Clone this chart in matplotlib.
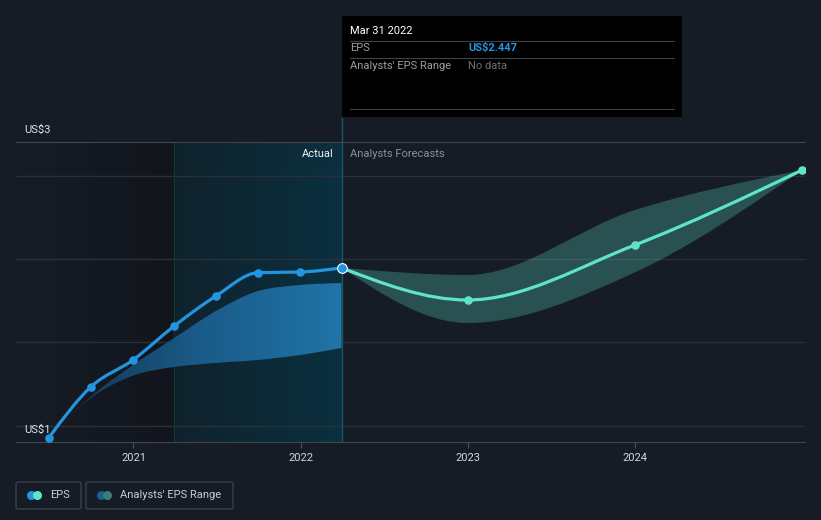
import os
os.environ["MPLBACKEND"] = "Agg"
import numpy as np
import pandas as pd
import matplotlib.pyplot as plt
from matplotlib.path import Path
from matplotlib.patches import PathPatch, Rectangle, FancyBboxPatch
from matplotlib.colors import LinearSegmentedColormap
from matplotlib.lines import Line2D

plt.rcParams['font.family'] = ['Roboto', 'DejaVu Sans']

# ---- data ----
actual_dates = ['2020-06-30', '2020-09-30', '2020-12-31', '2021-03-31',
                '2021-06-30', '2021-09-30', '2021-12-31', '2022-03-31']
actual_eps = [1.427, 1.733, 1.894, 2.098, 2.278, 2.418, 2.422, 2.447]
past_range_hi = [1.427, 1.675, 1.864, 2.026, 2.188, 2.308, 2.344, 2.356]
past_range_lo = [1.427, 1.665, 1.800, 1.852, 1.876, 1.894, 1.924, 1.966]

fc_dates = ['2022-03-31', '2022-12-31', '2023-12-31', '2024-12-31']
fc_eps = [2.447, 2.254, 2.584, 3.034]
fc_hi = [2.447, 2.404, 2.794, 3.034]
fc_lo = [2.447, 2.116, 2.420, 3.034]

year_ticks = [2021, 2022, 2023, 2024]
grid_vals = [1.5, 2.0, 2.5, 3.0]
highlight_span = ['2021-03-31', '2022-03-31']

BG = '#161c26'
BLUE = '#2394df'
TEAL = '#5fe3cb'


def dec_year(s):
    d = pd.Timestamp(s)
    days = 366 if d.is_leap_year else 365
    return d.year + (d.dayofyear - 1) / days


def tangents(x, y):
    # monotone-x tangents (same rule as d3.curveMonotoneX)
    n = len(x)
    h = np.diff(x)
    s = np.diff(y) / h
    t = np.zeros(n)
    for i in range(1, n - 1):
        p = (s[i - 1] * h[i] + s[i] * h[i - 1]) / (h[i - 1] + h[i])
        t[i] = (np.sign(s[i - 1]) + np.sign(s[i])) * min(abs(s[i - 1]), abs(s[i]), 0.5 * abs(p))
    t[0] = (3 * s[0] - t[1]) / 2
    t[-1] = (3 * s[-1] - t[-2]) / 2
    return t


def segments(x, y):
    t = tangents(x, y)
    segs = []
    for i in range(len(x) - 1):
        dx = (x[i + 1] - x[i]) / 3
        segs.append(((x[i], y[i]), (x[i] + dx, y[i] + dx * t[i]),
                     (x[i + 1] - dx, y[i + 1] - dx * t[i + 1]), (x[i + 1], y[i + 1])))
    return segs


def curve_path(x, y):
    segs = segments(x, y)
    verts = [segs[0][0]]
    codes = [Path.MOVETO]
    for s in segs:
        verts += [s[1], s[2], s[3]]
        codes += [Path.CURVE4] * 3
    return Path(verts, codes)


def band_path(x, hi, lo):
    up = segments(x, hi)
    dn = segments(x, lo)
    verts = [up[0][0]]
    codes = [Path.MOVETO]
    for s in up:
        verts += [s[1], s[2], s[3]]
        codes += [Path.CURVE4] * 3
    verts.append(dn[-1][3])
    codes.append(Path.LINETO)
    for s in reversed(dn):
        verts += [s[2], s[1], s[0]]
        codes += [Path.CURVE4] * 3
    verts.append(verts[0])
    codes.append(Path.CLOSEPOLY)
    return Path(verts, codes)


xa = np.array([dec_year(d) for d in actual_dates])
xf = np.array([dec_year(d) for d in fc_dates])
ya = np.array(actual_eps)
yf = np.array(fc_eps)

W, H = 821, 520
L, R, T, B = 16, 805, 142, 442
XMIN, XMAX = 2020.298, 2025.014
YMIN, YMAX = 1.4016, 3.2023

fig = plt.figure(figsize=(W / 100, H / 100), dpi=100, facecolor=BG)
ax = fig.add_axes([L / W, 1 - B / H, (R - L) / W, (B - T) / H])
ax.set_facecolor(BG)

# background regions
past_cm = LinearSegmentedColormap.from_list('past', [BG, '#12151c'])
ax.imshow(np.linspace(0, 1, 64).reshape(1, -1), cmap=past_cm, aspect='auto',
          extent=[XMIN, dec_year(highlight_span[0]), YMIN, YMAX], zorder=0)
hl_cm = LinearSegmentedColormap.from_list('hl', ['#0f222c', '#0b3040'])
ax.imshow(np.linspace(0, 1, 64).reshape(1, -1), cmap=hl_cm, aspect='auto',
          extent=[dec_year(highlight_span[0]), dec_year(highlight_span[1]), YMIN, YMAX], zorder=0)
ax.axvline(dec_year(highlight_span[0]), color='#163440', lw=0.8, zorder=1)

for v in grid_vals:
    ax.axhline(v, color='#2a2f38', lw=1, zorder=1)

# past analyst range (gradient fill)
bp = PathPatch(band_path(xa, past_range_hi, past_range_lo), facecolor='none', edgecolor='none')
ax.add_patch(bp)
band_cm = LinearSegmentedColormap.from_list('band', ['#14304a', '#1a5a88', '#2074a8'])
im = ax.imshow(np.linspace(0, 1, 64).reshape(1, -1), cmap=band_cm, aspect='auto',
               extent=[xa[0], xa[-1], YMIN, YMAX], zorder=2)
im.set_clip_path(bp)

# forecast range
ax.add_patch(PathPatch(band_path(xf, fc_hi, fc_lo), facecolor=TEAL, alpha=0.27,
                       edgecolor='none', zorder=2))

# lines
ax.add_patch(PathPatch(curve_path(xa, ya), facecolor='none', edgecolor=BLUE, lw=2.3,
                       capstyle='round', joinstyle='round', zorder=4))
ax.add_patch(PathPatch(curve_path(xf, yf), facecolor='none', edgecolor=TEAL, lw=2.3,
                       capstyle='round', joinstyle='round', zorder=4))
ax.plot(xa[:-1], ya[:-1], 'o', color=BLUE, ms=6.2, mew=0, zorder=5)
ax.plot(xf[1:], yf[1:], 'o', color=TEAL, ms=6.2, mew=0, zorder=5)
ax.plot(xa[-1:], ya[-1:], 'o', color=BLUE, ms=7, mec='white', mew=0.8, zorder=6)

# divider line between actual and forecast
ax.plot([xa[-1], xa[-1]], [0, (B - 118) / (B - T)], color='#1b5568', lw=1,
        transform=ax.get_xaxis_transform(), clip_on=False, zorder=3)

ax.set_xlim(XMIN, XMAX)
ax.set_ylim(YMIN, YMAX)
ax.set_yticks([])
ax.set_xticks(year_ticks)
ax.set_xticklabels([str(y) for y in year_ticks])
ax.tick_params(axis='x', colors='#4a4f58', labelcolor='#d2d4d8', labelsize=8, length=4, pad=4)
for sp in ['left', 'right']:
    ax.spines[sp].set_visible(False)
ax.spines['top'].set_color('#40454e')
ax.spines['bottom'].set_color('#40454e')


def fx(px):
    return px / W


def fy(py):
    return 1 - py / H


# y labels
fig.text(fx(24), fy(130), 'US$3', color='#e2e4e8', fontsize=8, va='center')
fig.text(fx(24), fy(430), 'US$1', color='#e2e4e8', fontsize=8, va='center')

# section labels
fig.text(fx(334), fy(154), 'Actual', color='#f0f2f4', fontsize=8, va='center', ha='right')
fig.text(fx(350), fy(154), 'Analysts Forecasts', color='#8a9099', fontsize=8, va='center')

# tooltip
fig.add_artist(Rectangle((fx(342), fy(117)), fx(682) - fx(342), fy(16) - fy(117),
                         transform=fig.transFigure, facecolor='black', edgecolor='none', zorder=10))
for yy in [41, 58, 109]:
    fig.add_artist(Line2D([fx(350), fx(674)], [fy(yy), fy(yy)], color='#3e4148', lw=0.8,
                          transform=fig.transFigure, zorder=11))
fig.text(fx(350), fy(31), 'Mar 31 2022', color='white', fontsize=8, va='center', zorder=12)
fig.text(fx(350), fy(48), 'EPS', color='#9a9ea6', fontsize=8, va='center', zorder=12)
fig.text(fx(468), fy(48), 'US$2.447', color=BLUE, fontsize=8, fontweight='bold', va='center', zorder=12)
fig.text(fx(350), fy(66), "Analysts' EPS Range", color='#9a9ea6', fontsize=8, va='center', zorder=12)
fig.text(fx(468), fy(66), 'No data', color='#6c7078', fontsize=8, va='center', zorder=12)

# legend
for x0, x1 in [(16, 81), (86, 233)]:
    fig.add_artist(FancyBboxPatch((fx(x0), fy(509)), fx(x1) - fx(x0), fy(482) - fy(509),
                                  boxstyle='round,pad=0,rounding_size=0.003',
                                  transform=fig.transFigure, facecolor='none',
                                  edgecolor='#3a3f48', lw=1))
for px, c in [(31, BLUE), (37, TEAL), (101, '#1f5d8a'), (107, '#3b8078')]:
    fig.add_artist(Line2D([fx(px)], [fy(495)], marker='o', ms=6.5, mew=0, color=c,
                          transform=fig.transFigure))
fig.text(fx(50), fy(495), 'EPS', color='#c8ccd2', fontsize=8, va='center')
fig.text(fx(120), fy(495), "Analysts' EPS Range", color='#c8ccd2', fontsize=8, va='center')

fig.savefig('out.png', dpi=100, facecolor=BG)
